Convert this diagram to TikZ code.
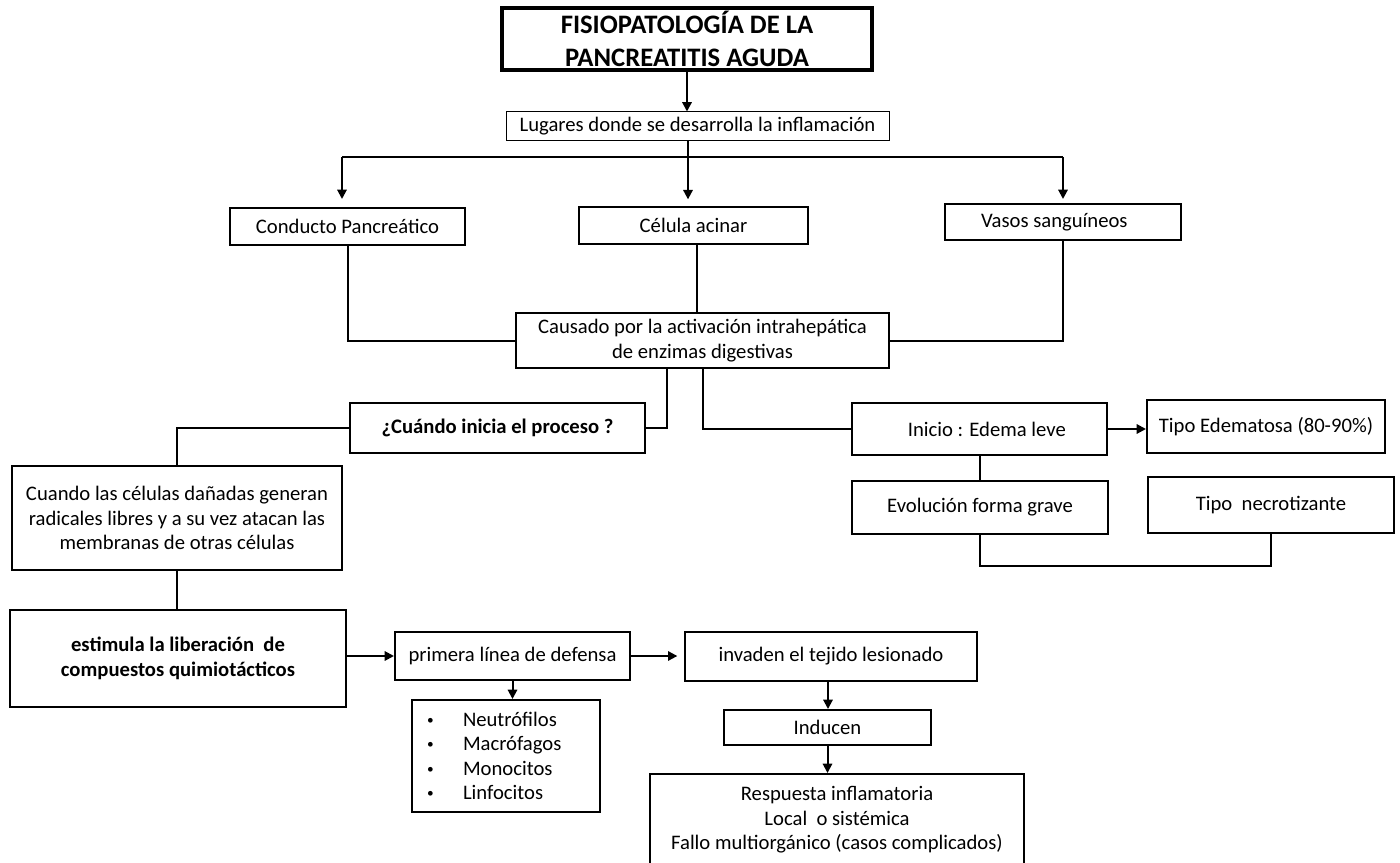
\documentclass[tikz,border=0pt]{standalone}
\usepackage{fontspec}
\setmainfont{Carlito}
\usetikzlibrary{arrows.meta,calc}
\newcommand\mybul{\makebox[27pt][l]{\raisebox{1.6pt}{\fontsize{10}{10}\selectfont •}}}
\begin{document}
\begin{tikzpicture}[x=0.75pt,y=-0.75pt,
  box/.style={draw, line width=1.5pt, inner sep=0pt, align=center, font=\fontsize{15.5}{18.4}\selectfont},
  sz/.style 2 args={minimum width=#1*0.75pt, minimum height=#2*0.75pt},
  conn/.style={line width=1.5pt},
  arr/.style={conn,-{Triangle[length=7pt,width=7pt]}},
]
\useasboundingbox (0,0) rectangle (1400,863);
\clip (0,0) rectangle (1400,863);
\fill[white] (0,0) rectangle (1400,863);

\node[box, line width=2.6pt, font=\bfseries\fontsize{20}{24.5}\selectfont, sz={370}{62}] (title) at (687,39) {FISIOPATOLOGÍA DE LA\\PANCREATITIS AGUDA};
\node[box, line width=0.75pt, sz={383}{29}] (lug) at (697.5,126.5) {Lugares donde se desarrolla la inflamación};
\node[box, sz={235}{37}] (cond) at (347.5,226.5) {Conducto Pancreático};
\node[box, sz={229}{37}] (cel) at (693.5,225.5) {Célula acinar};
\node[box, sz={236}{36}] (vas) at (1063,222) {Vasos sanguíneos\hspace*{13pt}};
\node[box, sz={373}{55}] (caus) at (702.5,340.5) {Causado por la activación intrahepática\\de enzimas digestivas};
\node[box, font=\bfseries\fontsize{15.5}{18.4}\selectfont, sz={295}{50}] (cuan) at (497.5,428) {¿Cuándo inicia el proceso ?};
\node[box, sz={330}{104}] (cl) at (177,518) {Cuando las células dañadas generan\\radicales libres y a su vez atacan las\\membranas de otras células};
\node[box, line width=2pt, font=\bfseries\fontsize{15.5}{18.4}\selectfont, sz={336}{97}] (est) at (178,658.5) {estimula la liberación\ \ de\\compuestos quimiotácticos};
\node[box, sz={235}{48}] (prim) at (512.5,656) {primera línea de defensa};
\node[box, sz={292}{49}] (inv) at (831,656.5) {invaden el tejido lesionado};
\node[box, align=left, text width=118.5pt, sz={188}{112}] (neut) at (506,756) {\mybul Neutrófilos\\\mybul Macrófagos\\\mybul Monocitos\\\mybul Linfocitos};
\node[box, sz={207}{35}] (ind) at (827.5,727.5) {Inducen};
\node[box, sz={374}{92}] (resp) at (837,820) {Respuesta inflamatoria\\Local\ \ o sistémica\\Fallo multiorgánico (casos complicados)};
\node[box, sz={255}{52}] (ini) at (979.5,429) {\hspace*{11pt}Inicio : Edema leve};
\node[box, sz={238}{53}] (ted) at (1266,426.5) {Tipo Edematosa (80-90\%)};
\node[box, sz={256}{53}] (evo) at (980,507.5) {Evolución forma grave};
\node[box, sz={246}{56}] (nec) at (1271,505) {Tipo\ \ necrotizante};

\coordinate (hb) at (688,157);
\coordinate (hl) at (342,157);
\coordinate (hr) at (1063,157);
\coordinate (eb) at (981,566);

\draw[arr] (title.south) -- (title.south |- lug.north);
\draw[conn] (hl) -- (hr);
\draw[arr, shorten >=5pt] (lug.south -| hb) -- (hb |- cel.north);
\draw[arr, shorten >=6pt] (hl) -- (hl |- cond.north);
\draw[arr, shorten >=3pt] (hr) -- (hr |- vas.north);
\draw[conn] (cond.south) |- (caus.west);
\draw[conn] ($(cel.south)+(3,0)$) -- ($(cel.south |- caus.north)+(3,0)$);
\draw[conn] (vas.south) |- (caus.east);
\draw[conn] ($(caus.south)+(-36,0)$) |- (cuan.east);
\draw[conn] (caus.south) |- (ini.west);
\draw[conn] (cuan.west) -| (cl.north);
\draw[conn] (cl.south) -- (cl.south |- est.north);
\draw[arr] (est.east |- prim.west) -- (prim.west);
\draw[arr, shorten >=5pt] (prim.east) -- (prim.east -| inv.west);
\draw[arr] (prim.south) -- (prim.south |- neut.north);
\draw[arr] ($(inv.south)+(-3,0)$) -- ($(inv.south |- ind.north)+(-3,0)$);
\draw[arr] (ind.south) -- (ind.south |- resp.north);
\draw[arr] (ini.east) -- (ted.west |- ini.east);
\draw[conn] (ini.south) -- (ini.south |- evo.north);
\draw[conn] (evo.south) -- (evo.south |- eb) -| (nec.south);
\end{tikzpicture}
\end{document}
